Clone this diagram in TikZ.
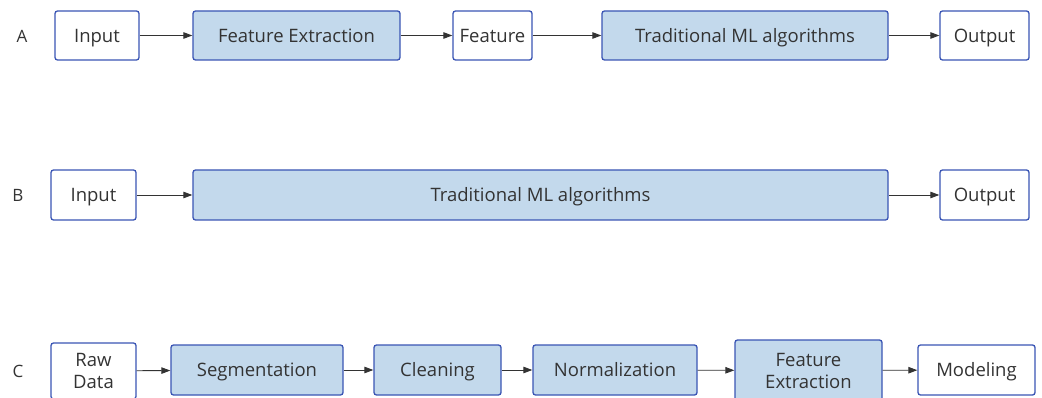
\documentclass[tikz,border=0pt]{standalone}
\usepackage{fontspec}
\setmainfont{Open Sans}
\usetikzlibrary{arrows.meta}
\definecolor{bordc}{HTML}{3A55B4}
\definecolor{fillc}{HTML}{C3D9EC}
\definecolor{txtc}{HTML}{333333}
\tikzset{
  box/.style={draw=bordc, line width=1.3pt, rounded corners=2.5pt, fill=white, text=txtc,
    font=\fontsize{18.5}{22}\selectfont, inner sep=0pt, align=center},
  bluebox/.style={box, fill=fillc},
  one/.style={text height=17pt, text depth=3.8pt},
  lbl/.style={text=txtc, font=\fontsize{17}{20}\selectfont, inner sep=0pt, text height=12.2pt, text depth=0pt},
  arr/.style={draw=txtc, line width=0.9pt, -{Triangle[length=9pt,width=6.5pt]}}
}
\begin{document}
\begin{tikzpicture}[x=1pt,y=-1pt]
\useasboundingbox (0,0) rectangle (1042,398);
% Row A
\node[lbl] (la) at (22,36) {A};
\node[box, one, minimum width=84pt, minimum height=49pt] (a1) at (97,35.5) {Input};
\node[bluebox, one, minimum width=207pt, minimum height=49pt] (a2) at (296.5,35.5) {Feature Extraction};
\node[box, one, minimum width=79pt, minimum height=49pt] (a3) at (492.5,35.5) {Feature};
\node[bluebox, one, minimum width=286pt, minimum height=49pt] (a4) at (745,35.5) {Traditional ML algorithms};
\node[box, one, minimum width=89pt, minimum height=49pt] (a5) at (984.5,35.5) {Output};
\draw[arr] (a1) -- (a2);
\draw[arr] (a2) -- (a3);
\draw[arr] (a3) -- (a4);
\draw[arr] (a4) -- (a5);
% Row B
\node[lbl] (lb) at (18,195) {B};
\node[box, one, minimum width=85pt, minimum height=50pt] (b1) at (93.5,195) {Input};
\node[bluebox, one, minimum width=695pt, minimum height=50pt] (b2) at (540.5,195) {Traditional ML algorithms};
\node[box, one, minimum width=89pt, minimum height=50pt] (b3) at (984.5,195) {Output};
\draw[arr] (b1) -- (b2);
\draw[arr] (b2) -- (b3);
% Row C
\node[lbl] (lc) at (18,371) {C};
\node[box, minimum width=85pt, minimum height=56pt] (c1) at (93.5,371) {Raw\\Data};
\node[bluebox, one, minimum width=172pt, minimum height=50pt] (c2) at (257,370) {Segmentation};
\node[bluebox, one, minimum width=127pt, minimum height=50pt] (c3) at (437.5,370) {Cleaning};
\node[bluebox, one, minimum width=164pt, minimum height=50pt] (c4) at (615,370) {Normalization};
\node[bluebox, minimum width=147pt, minimum height=61pt] (c5) at (808.5,370.5) {Feature\\Extraction};
\node[box, one, minimum width=117pt, minimum height=50pt] (c6) at (976.5,370) {Modeling};
\draw[arr] (c1) -- (c2);
\draw[arr] (c2) -- (c3);
\draw[arr] (c3) -- (c4);
\draw[arr] (c4) -- (c5);
\draw[arr] (c5) -- (c6);
\end{tikzpicture}
\end{document}
